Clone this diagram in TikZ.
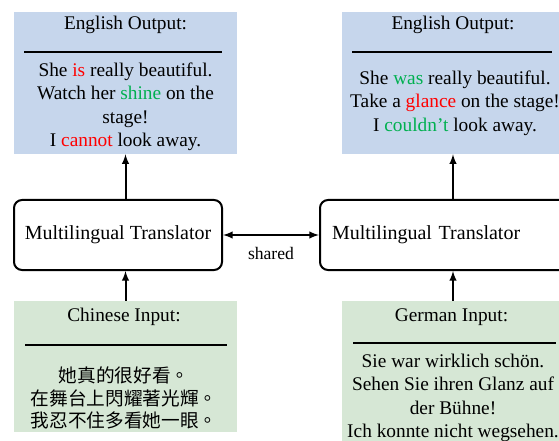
\documentclass[tikz,border=0pt]{standalone}
\usepackage{fontspec}
\setmainfont{Liberation Serif}
\newfontfamily\cjk{Noto Sans CJK TC}

\definecolor{outblue}{HTML}{C6D6EC}
\definecolor{ingreen}{HTML}{D6E7D5}
\definecolor{wrongred}{HTML}{FF0000}
\definecolor{rightgreen}{HTML}{00B050}

\tikzstyle{panel}=[draw=none,minimum width=167.25pt,minimum height=106.5pt,inner sep=0pt]
\tikzstyle{translator}=[draw,rounded corners=6pt,line width=1.5pt,minimum height=52.5pt,inner xsep=7pt,font=\fontsize{15}{18}\selectfont]
\tikzstyle{heading}=[font=\fontsize{14.5}{17.5}\selectfont]
\tikzstyle{body}=[align=center,font=\fontsize{14.5}{17.6}\selectfont]
\tikzstyle{rule}=[line width=1.5pt]
\tikzstyle{flow}=[-latex,line width=1.5pt]

\newcommand{\bad}[1]{\textcolor{wrongred}{#1}}
\newcommand{\good}[1]{\textcolor{rightgreen}{#1}}

\begin{document}
\begin{tikzpicture}[x=0.75pt,y=-0.75pt]
	\useasboundingbox (0,0) rectangle (559,441);
	\clip (0,0) rectangle (559,441);
	
	% output panels
	\node[panel,fill=outblue] (outL) at (125.5,83) {};
	\node[panel,fill=outblue] (outR) at (453,83) {};
	
	\node[heading] (outLt) at (125.5,25) {English Output:};
	\draw[rule] (24,52) -- (222,52);
	\node[body] (outLb) at (125.5,107) {She \bad{is} really beautiful.\\ Watch her \good{shine} on the\\ stage!\\ I \bad{cannot} look away.};
	
	\node[heading] (outRt) at (453,25) {English Output:};
	\draw[rule] (352,52) -- (552,52);
	\node[body] (outRb) at (455,103) {She \good{was} really beautiful.\\ Take a \bad{glance} on the stage!\\ I \good{couldn't} look away.};
	
	% translators
	\node[translator,minimum width=156pt] (trL) at (118,235) {Multilingual Translator};
	\node[translator,text width=173.25pt,align=left,inner xsep=9pt] (trR) at (447.5,235) {Multilingual Translator};
	
	\draw[latex-latex,line width=1.5pt] (trL) -- (trR) node [midway,below=5pt,font=\fontsize{13.2}{15}\selectfont] (shr) {shared};
	
	% input panels
	\node[panel,fill=ingreen,minimum height=98.25pt] (inL) at (125.5,366.5) {};
	\node[panel,fill=ingreen,minimum height=108.75pt] (inR) at (453,373.5) {};
	
	\node[heading] (inLt) at (124,317) {Chinese Input:};
	\draw[rule] (25,345) -- (227,345);
	\node[body,font=\cjk\fontsize{14}{17}\selectfont] (inLb) at (124,398) {她真的很好看。\\在舞台上閃耀著光輝。\\我忍不住多看她一眼。};
	
	\node[heading] (inRt) at (451.5,317) {German Input:};
	\draw[rule] (353,343) -- (556,343);
	\node[body] (inRb) at (453,398) {Sie war wirklich schön.\\ Sehen Sie ihren Glanz auf\\ der Bühne!\\ Ich konnte nicht wegsehen.};
	
	% flow
	\draw[flow] (outL.south |- trL.north) -- (outL.south);
	\draw[flow] (outR.south |- trR.north) -- (outR.south);
	\draw[flow] (inL.north) -- (inL.north |- trL.south);
	\draw[flow] (inR.north) -- (inR.north |- trR.south);
\end{tikzpicture}
\end{document}
